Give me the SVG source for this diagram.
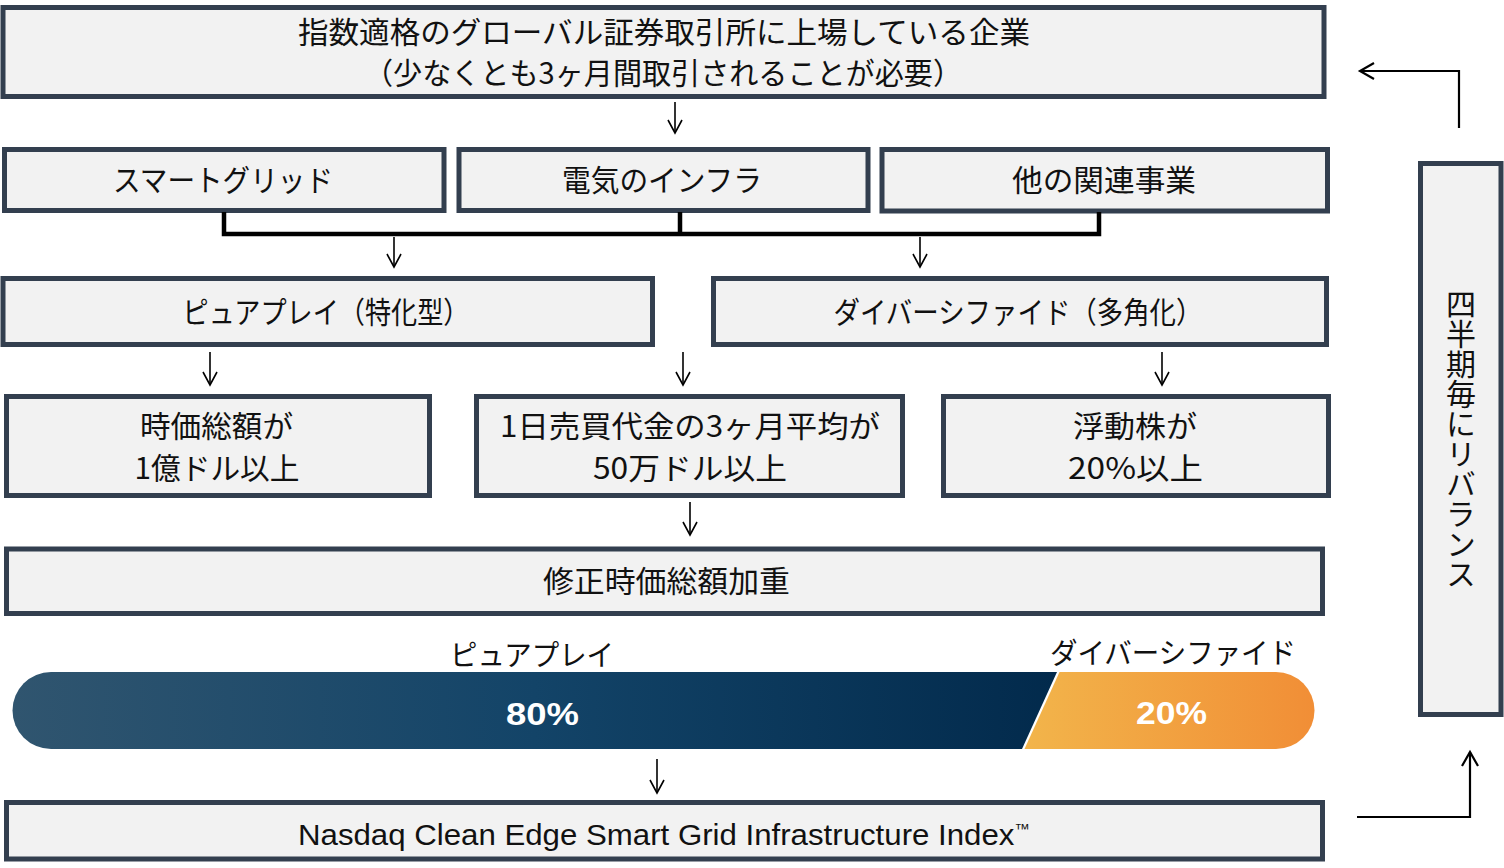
<svg xmlns="http://www.w3.org/2000/svg" width="1504" height="868" viewBox="0 0 1504 868">
  <defs>
    <style>
      .box { fill: #F2F2F2; stroke: #333F4F; stroke-width: 5; }
      .jp { font-family: "Noto Sans CJK JP", "Noto Sans", sans-serif; font-size: 30px; fill: #111; text-anchor: middle; }
      .lbl { font-family: "Noto Sans CJK JP", "Noto Sans", sans-serif; font-size: 29px; fill: #111; text-anchor: middle; }
      .pct { font-family: "Liberation Sans", Arial, sans-serif; font-weight: bold; font-size: 32px; fill: #FFFFFF; text-anchor: middle; }
      .en { font-family: "Liberation Sans", Arial, sans-serif; font-size: 30px; fill: #111; text-anchor: middle; }
      .tm { font-size: 15px; }
      .thin { fill: none; stroke: #000; stroke-width: 1.6; marker-end: url(#headS); }
      .side { fill: none; stroke: #000; stroke-width: 2.2; marker-end: url(#headL); }
      .brk { fill: none; stroke: #000; stroke-width: 4.5; }
    </style>
    <marker id="headS" markerUnits="userSpaceOnUse" markerWidth="18" markerHeight="18" viewBox="0 0 18 18" refX="15" refY="9" orient="auto">
      <path d="M2,2 L15,9 L2,16" fill="none" stroke="#000" stroke-width="1.6"/>
    </marker>
    <marker id="headL" markerUnits="userSpaceOnUse" markerWidth="20" markerHeight="20" viewBox="0 0 20 20" refX="17" refY="10" orient="auto">
      <path d="M3,2 L17,10 L3,18" fill="none" stroke="#000" stroke-width="2.2"/>
    </marker>
    <linearGradient id="gDark" gradientUnits="userSpaceOnUse" x1="12" y1="0" x2="1057" y2="0">
      <stop offset="0" stop-color="#30556F"/>
      <stop offset="0.5" stop-color="#134468"/>
      <stop offset="1" stop-color="#022A4C"/>
    </linearGradient>
    <linearGradient id="gOrange" gradientUnits="userSpaceOnUse" x1="1022" y1="0" x2="1315" y2="0">
      <stop offset="0" stop-color="#F2B54B"/>
      <stop offset="1" stop-color="#F18E36"/>
    </linearGradient>
  </defs>

  <rect width="1504" height="868" fill="#FFFFFF"/>

  <g id="node-universe">
    <rect class="box" x="3" y="7.5" width="1321" height="89"/>
    <text class="jp" x="664" y="43" textLength="732" lengthAdjust="spacingAndGlyphs">指数適格のグローバル証券取引所に上場している企業</text>
    <text class="jp" x="663" y="84" textLength="598" lengthAdjust="spacingAndGlyphs">（少なくとも3ヶ月間取引されることが必要）</text>
  </g>

  <g id="node-smartgrid">
    <rect class="box" x="4.5" y="149.5" width="439.5" height="61"/>
    <text class="jp" x="223" y="190.5" textLength="220" lengthAdjust="spacingAndGlyphs">スマートグリッド</text>
  </g>
  <g id="node-electric">
    <rect class="box" x="459" y="149.5" width="409" height="61"/>
    <text class="jp" x="662" y="190.5" textLength="200" lengthAdjust="spacingAndGlyphs">電気のインフラ</text>
  </g>
  <g id="node-other">
    <rect class="box" x="882" y="149.5" width="445.5" height="61.5"/>
    <text class="jp" x="1104" y="190.5" textLength="184" lengthAdjust="spacingAndGlyphs">他の関連事業</text>
  </g>

  <g id="node-pureplay">
    <rect class="box" x="3" y="278.5" width="649.5" height="66"/>
    <text class="jp" x="326" y="323" textLength="287" lengthAdjust="spacingAndGlyphs">ピュアプレイ（特化型）</text>
  </g>
  <g id="node-diversified">
    <rect class="box" x="713.5" y="278.5" width="613" height="66"/>
    <text class="jp" x="1018" y="323" textLength="369" lengthAdjust="spacingAndGlyphs">ダイバーシファイド（多角化）</text>
  </g>

  <g id="node-mcap">
    <rect class="box" x="6.5" y="396.5" width="423" height="99"/>
    <text class="jp" x="216.5" y="436.5" textLength="153" lengthAdjust="spacingAndGlyphs">時価総額が</text>
    <text class="jp" x="217" y="478.5" textLength="165" lengthAdjust="spacingAndGlyphs">1億ドル以上</text>
  </g>
  <g id="node-adtv">
    <rect class="box" x="476.5" y="396.5" width="426" height="99"/>
    <text class="jp" x="690" y="436.5" textLength="380" lengthAdjust="spacingAndGlyphs">1日売買代金の3ヶ月平均が</text>
    <text class="jp" x="690" y="478.5" textLength="194" lengthAdjust="spacingAndGlyphs">50万ドル以上</text>
  </g>
  <g id="node-float">
    <rect class="box" x="943.5" y="396.5" width="385" height="99"/>
    <text class="jp" x="1135" y="436.5" textLength="124" lengthAdjust="spacingAndGlyphs">浮動株が</text>
    <text class="jp" x="1135.5" y="478.5" textLength="135" lengthAdjust="spacingAndGlyphs">20%以上</text>
  </g>

  <g id="node-weighting">
    <rect class="box" x="6.5" y="549" width="1316" height="64.5"/>
    <text class="jp" x="666.5" y="592" textLength="247" lengthAdjust="spacingAndGlyphs">修正時価総額加重</text>
  </g>

  <g id="node-allocation">
    <text class="lbl" x="532" y="666" textLength="164" lengthAdjust="spacingAndGlyphs">ピュアプレイ</text>
    <text class="lbl" x="1173" y="664" textLength="246" lengthAdjust="spacingAndGlyphs">ダイバーシファイド</text>
    <path d="M51,672 H1057 L1022,749 H51 A38.5,38.5 0 0 1 51,672 Z" fill="url(#gDark)"/>
    <path d="M1059.5,672 H1276 A38.5,38.5 0 0 1 1276,749 H1024.5 Z" fill="url(#gOrange)"/>
    <text class="pct" x="542.5" y="725" textLength="73" lengthAdjust="spacingAndGlyphs">80%</text>
    <text class="pct" x="1171.5" y="724" textLength="71" lengthAdjust="spacingAndGlyphs">20%</text>
  </g>

  <g id="node-index">
    <rect class="box" x="6.5" y="802.5" width="1316" height="56.5"/>
    <text class="en" x="664" y="845" textLength="732" lengthAdjust="spacingAndGlyphs">Nasdaq  Clean  Edge Smart Grid Infrastructure  Index<tspan class="tm" dy="-11">™</tspan></text>
  </g>

  <g id="node-rebalance">
    <rect class="box" x="1420.5" y="163.5" width="80.5" height="551"/>
    <text class="jp" x="1461" y="439" style="writing-mode: vertical-rl;">四半期毎にリバランス</text>
  </g>

  <g id="connectors">
    <path class="brk" d="M224,212 V234 H1099 V212 M680,212 V234"/>
    <line class="thin" x1="675" y1="102" x2="675" y2="133"/>
    <line class="thin" x1="394" y1="237" x2="394" y2="267"/>
    <line class="thin" x1="920" y1="237" x2="920" y2="267"/>
    <line class="thin" x1="210" y1="352" x2="210" y2="385"/>
    <line class="thin" x1="683" y1="352" x2="683" y2="385"/>
    <line class="thin" x1="1162" y1="352" x2="1162" y2="385"/>
    <line class="thin" x1="690" y1="502" x2="690" y2="535"/>
    <line class="thin" x1="657" y1="759" x2="657" y2="793"/>
    <path class="side" d="M1357,817 H1470 V752"/>
    <path class="side" d="M1459,128 V71 H1360"/>
  </g>
</svg>
